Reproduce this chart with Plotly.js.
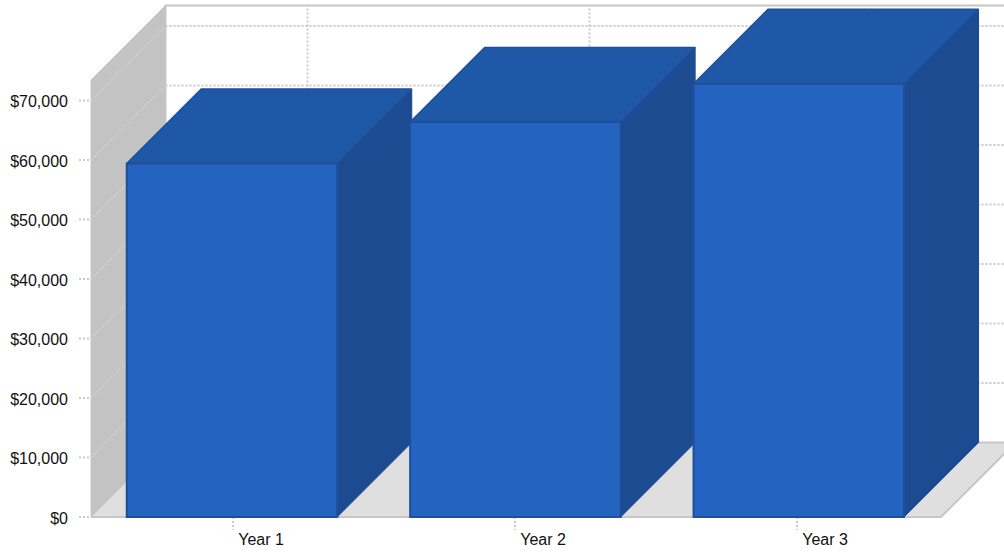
<!DOCTYPE html>
<html>
<head>
<meta charset="utf-8">
<script src="https://cdn.plot.ly/plotly-3.0.1.min.js"></script>
<style>html,body{margin:0;padding:0;background:#fff}#chart{width:1004px;height:553px}</style>
</head>
<body>
<div id="chart"></div>
<script>
// Chart data
const categories = ['Year 1', 'Year 2', 'Year 3'];
const revenue = [59400, 66400, 72800];
const yTickValues = [0, 10000, 20000, 30000, 40000, 50000, 60000, 70000];
const yTickLabels = ['$0', '$10,000', '$20,000', '$30,000', '$40,000', '$50,000', '$60,000', '$70,000'];

// Scale of the projection, in axis units
const pxPerCategory = 283.4;
const pxPerDollar = 59.5 / 10000;
const depthX = 74.5 / pxPerCategory;
const depthY = 74.5 / pxPerDollar;
const wallHeight = 437 / pxPerDollar;
const barWidth = 210.5 / pxPerCategory;
const tickSpacing = 282 / pxPerCategory;
const tickOffset = 1 / pxPerCategory;
const xLeft = -141 / pxPerCategory;
const xRight = xLeft + 850 / pxPerCategory;

const xRange = [xLeft - 12 / pxPerCategory, xLeft + 913 / pxPerCategory];
const yRange = [-13 / pxPerDollar, 517 / pxPerDollar];
const tickPositions = categories.map((c, i) => tickOffset + i * tickSpacing);

const colors = {
  wall: '#c3c3c3', floor: '#dfdfdf', edge: '#c6c6c6', grid: '#cacaca', wallGrid: '#cbd0d3',
  front: '#2563c0', top: '#2058a8', side: '#1c4b92', border: '#1d4f9a'
};

function polygon(xs, ys, fill, lineColor, lineWidth) {
  return {
    type: 'scatter', mode: 'lines', x: xs, y: ys, fill: 'toself', fillcolor: fill,
    line: {color: lineColor || fill, width: lineWidth === undefined ? 0 : lineWidth},
    hoverinfo: 'skip', showlegend: false
  };
}
function dotted(xs, ys, color) {
  return {
    type: 'scatter', mode: 'lines', x: xs, y: ys,
    line: {color: color, width: 2, dash: '2px 2px'},
    hoverinfo: 'skip', showlegend: false
  };
}
function solid(xs, ys, color, width) {
  return {
    type: 'scatter', mode: 'lines', x: xs, y: ys,
    line: {color: color, width: width},
    hoverinfo: 'skip', showlegend: false
  };
}

const traces = [];

// Room: left wall and floor
traces.push(polygon([xLeft, xLeft, xLeft + depthX, xLeft + depthX, xLeft],
                    [0, wallHeight, depthY + wallHeight, depthY, 0], colors.wall));
traces.push(polygon([xLeft, xLeft + depthX, xRight + depthX, xRight, xLeft],
                    [0, depthY, depthY, 0, 0], colors.floor));

// Gridlines on the walls and tick marks outside the room
yTickValues.slice(1).forEach(v => {
  traces.push(dotted([xLeft, xLeft + depthX], [v, v + depthY], colors.wallGrid));
});
yTickValues.forEach(v => {
  traces.push(dotted([xRange[0], xLeft], [v, v], colors.grid));
});
yTickValues.forEach(v => {
  if (v > 0) traces.push(dotted([xLeft + depthX, xRange[1]], [v + depthY, v + depthY], colors.grid));
});
tickPositions.forEach(t => {
  traces.push(dotted([t + depthX, t + depthX], [depthY, depthY + wallHeight], colors.grid));
  traces.push(dotted([t, t], [0, yRange[0]], colors.grid));
});

// Room outline
traces.push(solid([xLeft + depthX, xLeft + depthX, xRange[1]],
                  [depthY, depthY + wallHeight, depthY + wallHeight], colors.edge, 2));
traces.push(solid([xLeft, xLeft, xLeft + depthX], [0, wallHeight, depthY + wallHeight], colors.edge, 1));
traces.push(solid([xLeft + depthX, xRange[1]], [depthY, depthY], colors.edge, 2));
traces.push(solid([xLeft, xRight, xRight + depthX], [0, 0, depthY], colors.edge, 2));
traces.push(solid([xLeft, xLeft + depthX], [0, depthY], colors.edge, 1));

// Side and top faces of each column, back to front
revenue.forEach((v, i) => {
  const l = i - barWidth / 2, r = i + barWidth / 2;
  traces.push(polygon([r, r + depthX, r + depthX, r, r],
                      [0, depthY, v + depthY, v, 0], colors.side, colors.side, 1));
  traces.push(polygon([l, l + depthX, r + depthX, r, l],
                      [v, v + depthY, v + depthY, v, v], colors.top, colors.border, 1.5));
});

// Front faces sit on an overlaid pair of axes so they stay above the side faces
traces.push({
  type: 'bar', x: categories.map((c, i) => i), y: revenue, width: barWidth,
  xaxis: 'x2', yaxis: 'y2',
  marker: {color: colors.front, line: {color: colors.border, width: 2}},
  text: categories, textposition: 'none',
  hovertemplate: '%{text}: $%{y:,d}<extra></extra>', showlegend: false
});

const axisFont = {family: '"Liberation Sans", Arial, sans-serif', size: 16, color: '#111111'};

const layout = {
  width: 1004, height: 553,
  margin: {l: 79, r: 0, t: 0, b: 23, pad: 0},
  paper_bgcolor: '#ffffff', plot_bgcolor: '#ffffff',
  showlegend: false, barmode: 'overlay',
  xaxis: {
    type: 'linear', range: xRange, fixedrange: true,
    tickmode: 'array', tickvals: tickPositions, ticktext: categories,
    ticklabelshift: 28, ticklabelstandoff: -2,
    ticks: '', showgrid: false, zeroline: false, showline: false,
    tickfont: axisFont
  },
  yaxis: {
    type: 'linear', range: yRange, fixedrange: true,
    tickmode: 'array', tickvals: yTickValues, ticktext: yTickLabels,
    ticklabelstandoff: 10, ticklabelshift: 1,
    ticks: '', showgrid: false, zeroline: false, showline: false,
    tickfont: axisFont
  },
  xaxis2: {overlaying: 'x', range: xRange, visible: false, fixedrange: true},
  yaxis2: {overlaying: 'y', range: yRange, visible: false, fixedrange: true}
};

Plotly.newPlot('chart', traces, layout, {displayModeBar: false, responsive: false});
</script>
</body>
</html>
